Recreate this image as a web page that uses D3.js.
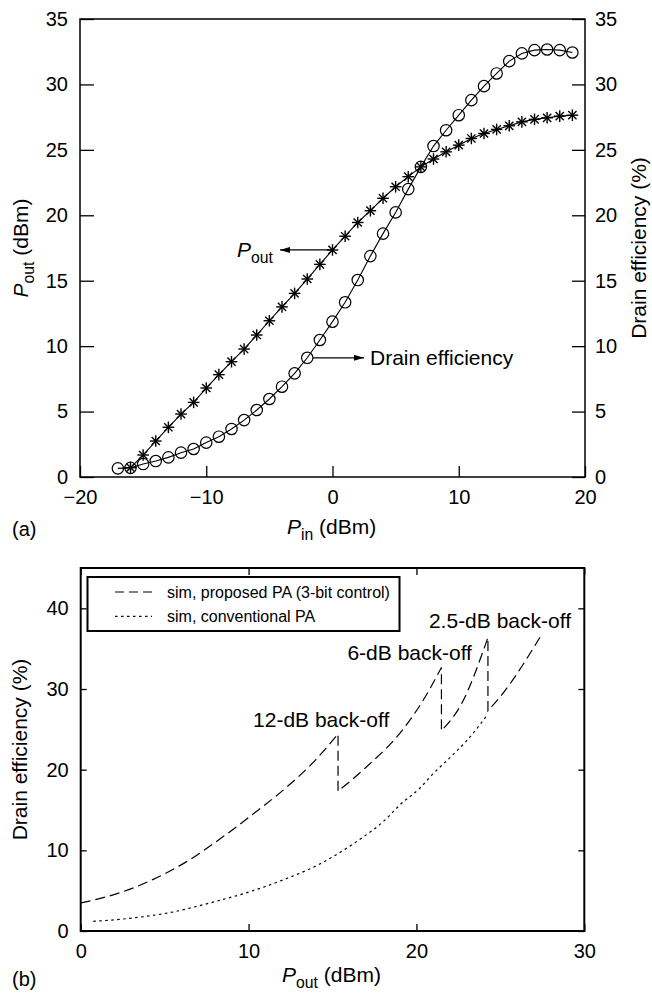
<!DOCTYPE html>
<html>
<head>
<meta charset="utf-8">
<script src="https://cdn.jsdelivr.net/npm/d3@7"></script>
<style>
  html, body { margin: 0; padding: 0; background: #fff; }
  svg { display: block; font-family: "Liberation Sans", Arial, Helvetica, sans-serif; }
</style>
</head>
<body>
<svg id="fig" width="652" height="996"></svg>
<script>
// ---- (a) output power and drain efficiency versus input power ----
const pinStar = d3.range(-16, 20);        // Pin (dBm) for Pout samples
const poutValues = [0.71, 1.68, 2.75, 3.8, 4.81, 5.7, 6.8, 7.82, 8.81, 9.78,
  10.85, 11.94, 13.0, 14.03, 15.13, 16.25, 17.35, 18.4, 19.45, 20.35,
  21.3, 22.18, 22.95, 23.7, 24.3, 24.85, 25.36, 25.87, 26.25, 26.56,
  26.84, 27.14, 27.33, 27.45, 27.58, 27.65];
const pinCircle = d3.range(-17, 20);      // Pin (dBm) for efficiency samples
const effValues = [0.66, 0.7, 0.99, 1.22, 1.5, 1.86, 2.14, 2.63, 3.08, 3.67,
  4.35, 5.12, 5.96, 6.9, 7.92, 9.11, 10.47, 11.87, 13.35, 15.05,
  16.88, 18.6, 20.22, 22.0, 23.7, 25.29, 26.5, 27.65, 28.8, 29.87,
  30.84, 31.78, 32.37, 32.62, 32.67, 32.62, 32.44];
const topXTicks = [-20, -10, 0, 10, 20];
const topYTicks = [0, 5, 10, 15, 20, 25, 30, 35];

// ---- (b) drain efficiency versus output power ----
const proposedPout = [0, 1, 2.34, 4.32, 6.31, 8.29, 10.27, 12.26, 13.85, 15.33,
  15.33, 17.0, 19.2, 20.4, 21.49, 21.49, 22.68, 24.26, 24.26, 24.96, 27.5];
const proposedEff = [3.47, 3.95, 4.75, 6.4, 8.6, 11.4, 14.5, 17.82, 20.9, 24.43,
  17.33, 20.3, 25.0, 28.6, 32.67, 24.84, 28.14, 36.39, 27.31, 28.96, 36.9];
const conventionalPout = [0.75, 2.34, 4.0, 5.61, 7.0, 8.29, 10.27, 12.26, 14.24,
  16.23, 18.2, 19.0, 20.2, 21.0, 22.0, 23.0, 24.26];
const conventionalEff = [1.2, 1.45, 1.85, 2.4, 3.1, 3.8, 5.0, 6.5, 8.3,
  10.8, 13.9, 15.6, 17.7, 19.5, 21.5, 23.6, 26.9];
const botXTicks = [0, 10, 20, 30];
const botYTicks = [0, 10, 20, 30, 40];
const backoffLabels = ["12-dB back-off", "6-dB back-off", "2.5-dB back-off"];
const backoffPout = [15.33, 21.49, 24.26];
const legendLabels = ["sim, proposed PA (3-bit control)", "sim, conventional PA"];

const svg = d3.select("#fig");
svg.append("rect").attr("width", 652).attr("height", 996).attr("fill", "#fff");

const defs = svg.append("defs");
defs.append("marker")
  .attr("id", "arrowhead")
  .attr("viewBox", "0 0 10 6")
  .attr("refX", 10).attr("refY", 3)
  .attr("markerWidth", 10).attr("markerHeight", 6)
  .attr("markerUnits", "userSpaceOnUse")
  .attr("orient", "auto")
  .append("path").attr("d", "M0,0 L10,3 L0,6 Z").attr("fill", "#000");

const TICK_FONT = 20;
const LABEL_FONT = 21;

function styleAxis(g) {
  g.select(".domain").remove();
  g.selectAll(".tick line").attr("stroke", "#000").attr("stroke-width", 1.3);
  g.selectAll(".tick text").attr("font-size", TICK_FONT).attr("fill", "#000")
    .attr("font-family", "Liberation Sans, Arial, sans-serif");
}

// subscripted label, e.g. P_out (dBm)
function subLabel(sel, main, sub, rest, size) {
  sel.attr("font-size", size).attr("fill", "#000");
  sel.append("tspan").attr("font-style", "italic").text(main);
  sel.append("tspan").attr("font-size", size * 0.75).attr("dy", size * 0.28).text(sub);
  sel.append("tspan").attr("dy", -size * 0.28).text(rest);
}

// smooth path through points; a repeated x starts a new piece joined by a vertical step
function steppedSmoothPath(data, line) {
  const pieces = [];
  let cur = [];
  data.forEach((d, i) => {
    if (i > 0 && d.x === data[i - 1].x) { pieces.push(cur); cur = []; }
    cur.push(d);
  });
  pieces.push(cur);
  return pieces.map((p, i) => {
    const s = line(p);
    return i === 0 ? s : "L" + s.slice(1);
  }).join("");
}

// =================== panel (a) ===================
const xA = d3.scaleLinear().domain([-20, 20]).range([80, 585]);
const yA = d3.scaleLinear().domain([0, 35]).range([477, 19]);
const gA = svg.append("g");

gA.append("g").attr("transform", `translate(0,${yA(0)})`)
  .call(d3.axisBottom(xA).tickValues(topXTicks).tickSize(-11).tickPadding(13))
  .call(styleAxis);
gA.append("g").attr("transform", `translate(${xA(-20)},0)`)
  .call(d3.axisLeft(yA).tickValues(topYTicks).tickSize(-14).tickPadding(12))
  .call(styleAxis);
gA.append("g").attr("transform", `translate(${xA(20)},0)`)
  .call(d3.axisRight(yA).tickValues(topYTicks).tickSize(-13).tickPadding(10))
  .call(styleAxis);
gA.append("rect")
  .attr("x", xA(-20)).attr("y", yA(35))
  .attr("width", xA(20) - xA(-20)).attr("height", yA(0) - yA(35))
  .attr("fill", "none").attr("stroke", "#000").attr("stroke-width", 1.5);

const poutData = pinStar.map((p, i) => ({ x: p, y: poutValues[i] }));
const effData = pinCircle.map((p, i) => ({ x: p, y: effValues[i] }));
const lineA = d3.line().x(d => xA(d.x)).y(d => yA(d.y));

gA.append("path").datum(poutData).attr("d", lineA)
  .attr("fill", "none").attr("stroke", "#000").attr("stroke-width", 1.1);
gA.append("path").datum(effData).attr("d", lineA)
  .attr("fill", "none").attr("stroke", "#000").attr("stroke-width", 1.1);

// asterisk markers for Pout
const starR = 5.8;
const stars = gA.append("g").selectAll("g").data(poutData).join("g")
  .attr("transform", d => `translate(${xA(d.x)},${yA(d.y)})`);
[0, 45, 90, 135].forEach(a => {
  const r = a * Math.PI / 180;
  stars.append("line")
    .attr("x1", -starR * Math.cos(r)).attr("y1", -starR * Math.sin(r))
    .attr("x2", starR * Math.cos(r)).attr("y2", starR * Math.sin(r))
    .attr("stroke", "#000").attr("stroke-width", 1.4);
});

// open circle markers for drain efficiency
gA.append("g").selectAll("circle").data(effData).join("circle")
  .attr("cx", d => xA(d.x)).attr("cy", d => yA(d.y)).attr("r", 5.7)
  .attr("fill", "none").attr("stroke", "#000").attr("stroke-width", 1.2);

// annotation arrows
const poutAt0 = poutData.find(d => d.x === 0);
gA.append("line")
  .attr("x1", xA(poutAt0.x)).attr("y1", yA(poutAt0.y))
  .attr("x2", 280).attr("y2", yA(poutAt0.y))
  .attr("stroke", "#000").attr("stroke-width", 1.2)
  .attr("marker-end", "url(#arrowhead)");
subLabel(gA.append("text").attr("x", 237).attr("y", yA(poutAt0.y) + 7), "P", "out", "", 21);

const effAtM2 = effData.find(d => d.x === -2);
gA.append("line")
  .attr("x1", xA(effAtM2.x) + 5.7).attr("y1", yA(effAtM2.y))
  .attr("x2", 364).attr("y2", yA(effAtM2.y))
  .attr("stroke", "#000").attr("stroke-width", 1.2)
  .attr("marker-end", "url(#arrowhead)");
gA.append("text").attr("x", 370).attr("y", yA(effAtM2.y) + 7.5)
  .attr("font-size", LABEL_FONT).attr("fill", "#000").text("Drain efficiency");

// axis titles (a)
subLabel(gA.append("text").attr("x", 287).attr("y", 534), "P", "in", " (dBm)", LABEL_FONT);
subLabel(gA.append("text")
  .attr("transform", `translate(28,${(yA(0) + yA(35)) / 2}) rotate(-90)`)
  .attr("text-anchor", "middle"), "P", "out", " (dBm)", LABEL_FONT);
gA.append("text")
  .attr("transform", `translate(646,${(yA(0) + yA(35)) / 2}) rotate(-90)`)
  .attr("text-anchor", "middle").attr("font-size", LABEL_FONT).attr("fill", "#000")
  .text("Drain efficiency (%)");
gA.append("text").attr("x", 12).attr("y", 536).attr("font-size", 20).text("(a)");

// =================== panel (b) ===================
const xB = d3.scaleLinear().domain([0, 30]).range([80.7, 584.3]);
const yB = d3.scaleLinear().domain([0, 45]).range([931, 568]);
const gB = svg.append("g");

gB.append("g").attr("transform", `translate(0,${yB(0)})`)
  .call(d3.axisBottom(xB).tickValues(botXTicks).tickSize(-7).tickPadding(13))
  .call(styleAxis);
gB.append("g").attr("transform", `translate(0,${yB(45)})`)
  .call(d3.axisTop(xB).tickValues(botXTicks).tickSize(-7).tickFormat(""))
  .call(styleAxis);
gB.append("g").attr("transform", `translate(${xB(0)},0)`)
  .call(d3.axisLeft(yB).tickValues(botYTicks).tickSize(-6).tickPadding(12))
  .call(styleAxis);
gB.append("g").attr("transform", `translate(${xB(30)},0)`)
  .call(d3.axisRight(yB).tickValues(botYTicks).tickSize(-6).tickFormat(""))
  .call(styleAxis);
gB.append("rect")
  .attr("x", xB(0)).attr("y", yB(45))
  .attr("width", xB(30) - xB(0)).attr("height", yB(0) - yB(45))
  .attr("fill", "none").attr("stroke", "#000").attr("stroke-width", 2);

const lineB = d3.line().x(d => xB(d.x)).y(d => yB(d.y)).curve(d3.curveMonotoneX);
const proposedData = proposedPout.map((p, i) => ({ x: p, y: proposedEff[i] }));
const conventionalData = conventionalPout.map((p, i) => ({ x: p, y: conventionalEff[i] }));

gB.append("path").attr("d", steppedSmoothPath(proposedData, lineB))
  .attr("fill", "none").attr("stroke", "#000").attr("stroke-width", 1.2)
  .attr("stroke-dasharray", "10,5");
gB.append("path").datum(conventionalData).attr("d", lineB)
  .attr("fill", "none").attr("stroke", "#000").attr("stroke-width", 1.2)
  .attr("stroke-dasharray", "2.5,3.5");

// back-off annotations, placed above each efficiency peak
const peakEff = backoffPout.map(p => d3.max(proposedData.filter(d => d.x === p), d => d.y));
const labelOffsets = [{ dx: -85, dy: -7 }, { dx: -94, dy: -7 }, { dx: -59, dy: -9 }];
gB.append("g").selectAll("text").data(backoffLabels).join("text")
  .attr("x", (d, i) => xB(backoffPout[i]) + labelOffsets[i].dx)
  .attr("y", (d, i) => yB(peakEff[i]) + labelOffsets[i].dy)
  .attr("font-size", LABEL_FONT).attr("fill", "#000").text(d => d);

// legend
const leg = gB.append("g");
leg.append("rect").attr("x", 87.5).attr("y", 577).attr("width", 312).attr("height", 54)
  .attr("fill", "#fff").attr("stroke", "#000").attr("stroke-width", 2);
const legDash = ["9,5", "2.5,3.5"];
legendLabels.forEach((t, i) => {
  const y = 592 + i * 24.3;
  leg.append("line").attr("x1", 115).attr("x2", 152).attr("y1", y).attr("y2", y)
    .attr("stroke", "#000").attr("stroke-width", 1.2).attr("stroke-dasharray", legDash[i]);
  leg.append("text").attr("x", 167).attr("y", y + 6).attr("font-size", 16)
    .attr("fill", "#000").text(t);
});

// axis titles (b)
subLabel(gB.append("text").attr("x", 282).attr("y", 982), "P", "out", " (dBm)", LABEL_FONT);
gB.append("text")
  .attr("transform", `translate(27,${(yB(0) + yB(45)) / 2}) rotate(-90)`)
  .attr("text-anchor", "middle").attr("font-size", LABEL_FONT).attr("fill", "#000")
  .text("Drain efficiency (%)");
gB.append("text").attr("x", 12).attr("y", 986).attr("font-size", 20).text("(b)");
</script>
</body>
</html>
